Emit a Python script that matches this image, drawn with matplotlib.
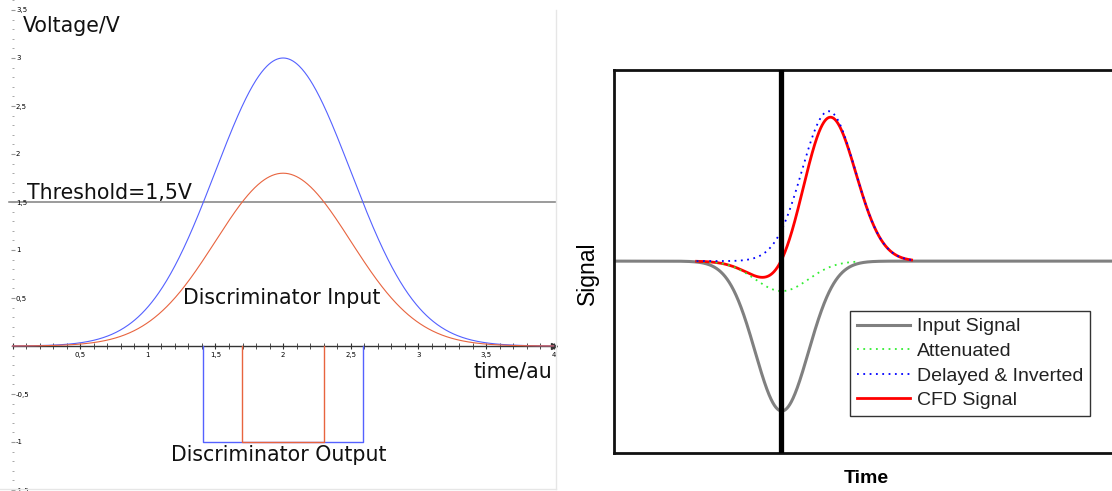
"""Leading-edge discriminator vs. constant fraction discriminator (CFD)."""

import numpy as np
import matplotlib.pyplot as plt
from matplotlib.lines import Line2D
from matplotlib.ticker import MultipleLocator, FuncFormatter

W, H = 1112, 491
plt.rcParams["axes.unicode_minus"] = False

# --- leading edge discriminator (left) -------------------------------------
PULSE_AMPLITUDES = [3.0, 1.8]          # V
PULSE_COLORS = ["#5461ff", "#e8643f"]
PULSE_CENTER = 2.0                     # au
PULSE_SIGMA = 0.5                      # au
THRESHOLD = 1.5                        # V
OUTPUT_LEVEL = -1.0                    # V

# --- constant fraction discriminator (right) -------------------------------
INPUT_AMPLITUDE = 1.0
INPUT_CENTER = 16.85                   # ns
INPUT_SIGMA = 2.67                     # ns
CFD_FRACTION = 0.2
CFD_DELAY = 4.7                        # ns
SERIES_LABELS = ["Input Signal", "Attenuated", "Delayed & Inverted", "CFD Signal"]
SERIES_SPANS = [(0.0, 50.0), (8.3, 24.5), (8.3, 29.9), (8.3, 29.9)]


def px_box(x0, y0, x1, y1):
    """Figure-fraction rect from pixel corners (top-left origin)."""
    return [x0 / W, 1 - y1 / H, (x1 - x0) / W, (y1 - y0) / H]


def comma(v, _pos):
    if abs(v) < 1e-9:
        return ""
    return f"{v:g}".replace(".", ",")


def gauss(t, amp, mu, sigma):
    return amp * np.exp(-(t - mu) ** 2 / (2 * sigma ** 2))


fig = plt.figure(figsize=(W / 100, H / 100), dpi=100)

# ---------------------------------------------------------------- left panel
ax = fig.add_axes(px_box(0, 0, 556, 491))
ax.set_xlim(-12.5 / 135.3, (556 - 12.5) / 135.3)
ax.set_ylim((346 - 491) / 96.0, 346 / 96.0)
ax.patch.set_alpha(0)

for s in ("top", "left"):
    ax.spines[s].set_visible(False)
ax.spines["bottom"].set_position(("data", 0))
ax.spines["bottom"].set_bounds(0, 4)
ax.spines["bottom"].set_color("#333333")
ax.spines["bottom"].set_linewidth(1.0)
ax.spines["right"].set_position(("data", 0))
ax.spines["right"].set_color("none")

ax.xaxis.set_major_locator(MultipleLocator(0.5))
ax.xaxis.set_minor_locator(MultipleLocator(0.1))
ax.xaxis.set_major_formatter(FuncFormatter(comma))
ax.tick_params(axis="x", which="both", direction="inout", color="#333333",
               labelsize=5, pad=2)
ax.tick_params(axis="x", which="major", length=5, width=0.8)
ax.tick_params(axis="x", which="minor", length=4, width=0.6)

ax.yaxis.tick_right()
ax.yaxis.set_major_locator(MultipleLocator(0.5))
ax.yaxis.set_minor_locator(MultipleLocator(0.1))
ax.yaxis.set_major_formatter(FuncFormatter(comma))
ax.tick_params(axis="y", which="both", direction="inout", color="#999999",
               labelsize=5, pad=1)
ax.tick_params(axis="y", which="major", length=3, width=0.8)
ax.tick_params(axis="y", which="minor", length=2, width=0.6)

ax.plot([4.0], [0.0], marker=">", ms=4, color="#333333", clip_on=False)

ax.axhline(THRESHOLD, xmin=9 / 556, color="#808080", lw=1.1, zorder=1)

t = np.linspace(0, 4, 801)
for amp, col in zip(PULSE_AMPLITUDES, PULSE_COLORS):
    ax.plot(t, gauss(t, amp, PULSE_CENTER, PULSE_SIGMA), color=col, lw=0.8, zorder=3)

# discriminator output: square pulse while the input is above threshold
for amp, col in zip(PULSE_AMPLITUDES, PULSE_COLORS):
    half = PULSE_SIGMA * np.sqrt(2 * np.log(amp / THRESHOLD))
    t_on, t_off = PULSE_CENTER - half, PULSE_CENTER + half
    ax.plot([t_on, t_on, t_off, t_off], [0, OUTPUT_LEVEL, OUTPUT_LEVEL, 0],
            color=col, lw=1.0, zorder=3)

txt = dict(fontsize=14.8, color="#111111", va="baseline", family="DejaVu Sans")
ax.text(0.08, 3.27, "Voltage/V", **txt)
ax.text(0.107, 1.53, "Threshold=1,5V", **txt)
ax.text(1.26, 0.44, "Discriminator Input", **txt)
ax.text(1.175, -1.2, "Discriminator Output", **txt)
ax.text(3.405, -0.33, "time/au", **txt)

# faint frame of the left drawing
fig.add_artist(Line2D([555.5 / W] * 2, [1 - 10 / H, 1 - 489 / H],
                      color="#e6e6e6", lw=1))
fig.add_artist(Line2D([0, 555.5 / W], [1 - 489 / H] * 2, color="#e6e6e6", lw=1))

# --------------------------------------------------------------- right panel
plt.rcParams["font.family"] = ["Liberation Sans", "DejaVu Sans"]
bx = fig.add_axes(px_box(614, 70, 1112, 453))
bx.set_xlim(0, 50)
bx.set_ylim(-1.28, 1.275)
bx.set_xticks([])
bx.set_yticks([])
bx.spines["right"].set_visible(False)
for s in ("left", "top", "bottom"):
    bx.spines[s].set_linewidth(2.0)
    bx.spines[s].set_color("#111111")

tt = np.linspace(0, 50, 2001)
input_sig = -gauss(tt, INPUT_AMPLITUDE, INPUT_CENTER, INPUT_SIGMA)
attenuated = CFD_FRACTION * input_sig
delayed_inv = gauss(tt, INPUT_AMPLITUDE, INPUT_CENTER + CFD_DELAY, INPUT_SIGMA)
cfd = attenuated + delayed_inv


def span(i, y):
    lo, hi = SERIES_SPANS[i]
    m = (tt >= lo) & (tt <= hi)
    return tt[m], y[m]


bx.plot(*span(0, input_sig), color="#808080", lw=2.2, label=SERIES_LABELS[0], zorder=2)
bx.plot(*span(3, cfd), color="#ff0000", lw=2.0, label=SERIES_LABELS[3], zorder=3)
bx.plot(*span(1, attenuated), color="#33ee33", lw=1.3, ls=(0, (1, 2.5)),
        label=SERIES_LABELS[1], zorder=4)
bx.plot(*span(2, delayed_inv), color="#0000ff", lw=1.3, ls=(0, (1, 2.5)),
        label=SERIES_LABELS[2], zorder=4)

# CFD timing point: zero crossing of the CFD signal
win = (tt > INPUT_CENTER - 5) & (tt < INPUT_CENTER + 5)
tw, cw = tt[win], cfd[win]
k = np.where(np.diff(np.sign(cw)) > 0)[0][0]
t_cross = tw[k] - cw[k] * (tw[k + 1] - tw[k]) / (cw[k + 1] - cw[k])
bx.axvline(t_cross, color="black", lw=3.8, zorder=5)

handles, labels = bx.get_legend_handles_labels()
order = [labels.index(l) for l in SERIES_LABELS]
leg = bx.legend([handles[i] for i in order], [labels[i] for i in order],
                loc="upper left", bbox_to_anchor=(850 / W, 1 - 311 / H),
                bbox_transform=fig.transFigure, borderaxespad=0,
                fontsize=14, frameon=True, fancybox=False, framealpha=1,
                edgecolor="#333333", handlelength=2.75, handletextpad=0.35,
                labelspacing=0.36, borderpad=0.35)
leg.get_frame().set_linewidth(1.0)
for tx in leg.get_texts():
    tx.set_color("#222222")

bx.set_ylabel("Signal", fontsize=16.5)
bx.yaxis.set_label_coords(-0.03, 0.47)
bx.set_xlabel("Time", fontsize=14, fontweight="bold")
bx.xaxis.set_label_coords(0.506, -0.044)

fig.savefig("out.png", dpi=100)
